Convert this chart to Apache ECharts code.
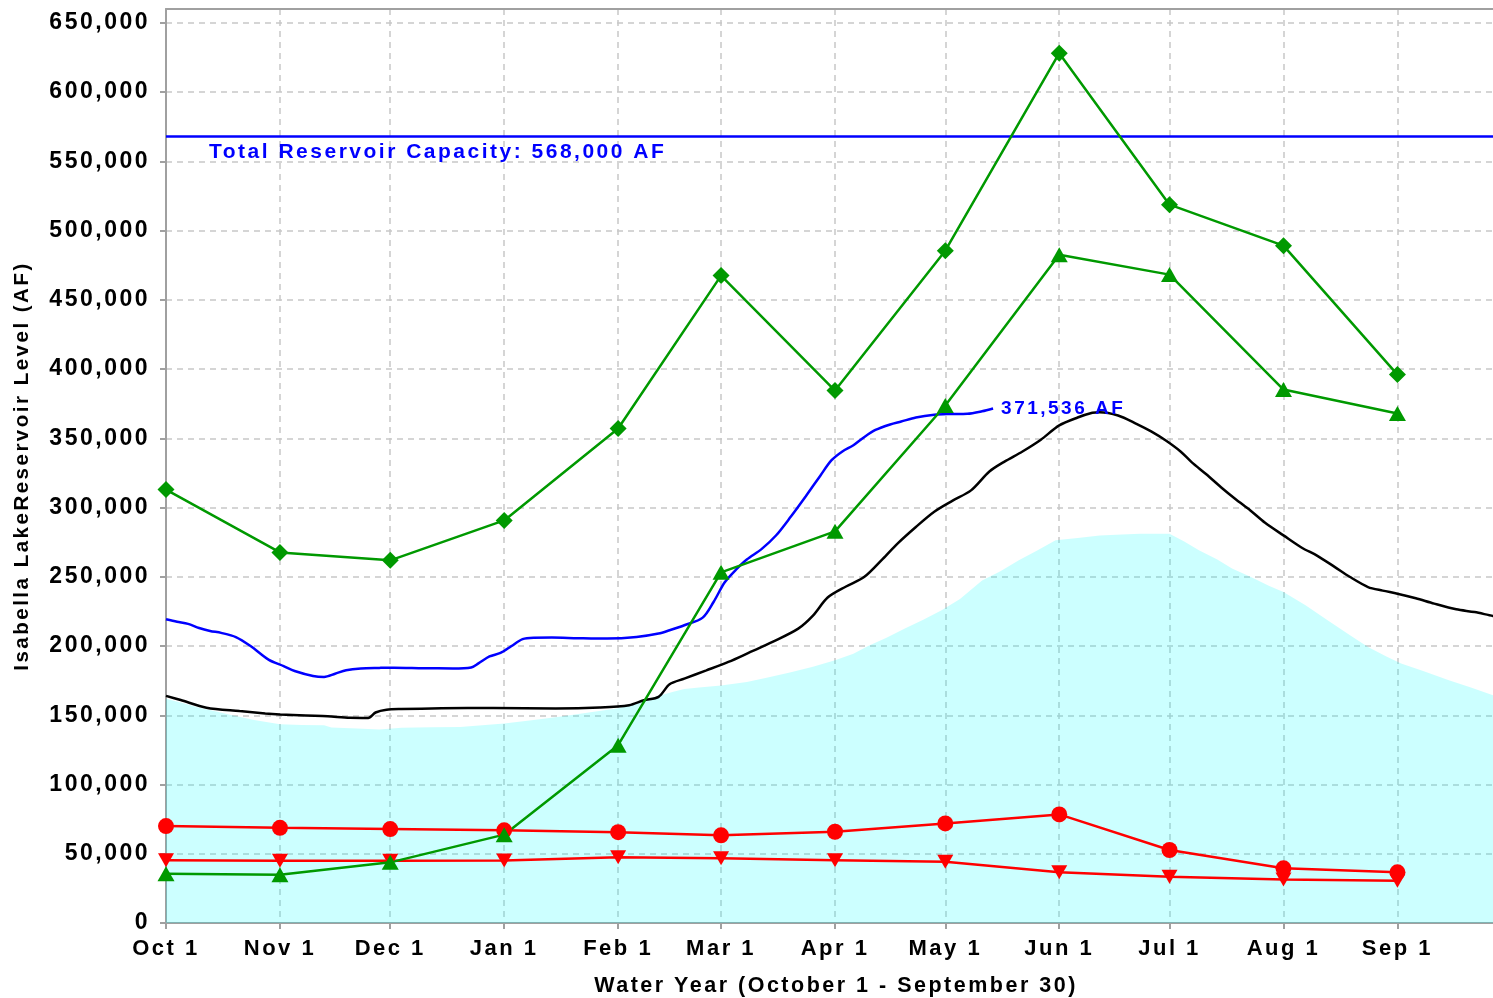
<!DOCTYPE html>
<html>
<head>
<meta charset="utf-8">
<title>Isabella Lake Reservoir Level</title>
<script src="https://cdn.jsdelivr.net/npm/echarts@6/dist/echarts.min.js"></script>
<style>
  html, body { margin: 0; padding: 0; background: #fff; }
  #chart { width: 1493px; height: 998px; }
</style>
</head>
<body>
<div id="chart"></div>
<script>
// x is the day of the water year, 0 = Oct 1; the plot is cut off a few days before Sep 30
const xMax = 361;
const monthDays = [0, 31, 61, 92, 123, 151, 182, 212, 243, 273, 304, 335];
const monthLabels = ['Oct 1', 'Nov 1', 'Dec 1', 'Jan 1', 'Feb 1', 'Mar 1', 'Apr 1', 'May 1', 'Jun 1', 'Jul 1', 'Aug 1', 'Sep 1'];
const yTicks = [0, 50000, 100000, 150000, 200000, 250000, 300000, 350000, 400000, 450000, 500000, 550000, 600000, 650000];
const capacity = 568000;

// monthly points
const greenDiamond = [313000, 267600, 261900, 290700, 357100, 467500, 384500, 485500, 628100, 518700, 489100, 396000];
const greenTriangle = [35600, 34800, 43800, 63800, 128400, 253200, 282800, 373700, 482600, 468200, 385200, 367900];
const redCircle = [70000, 68700, 67800, 66900, 65600, 63300, 65900, 71900, 78400, 52700, 39500, 36600];
const redTriangle = [45400, 44900, 44900, 45200, 47400, 46700, 45400, 44200, 36600, 33400, 31500, 30500];

// average storage (black)
const avgDays = [0, 4, 11, 20, 27, 31, 38, 44, 50, 55, 57, 60, 64, 75, 89, 106, 118, 126, 130, 134, 137, 141, 147, 153, 159, 165, 172, 176, 180, 185, 190, 195, 199, 204, 209, 214, 219, 224, 228, 233, 238, 243, 248, 252, 254, 259, 264, 268, 272, 276, 279, 283, 287, 291, 295, 299, 304, 309, 313, 318, 322, 327, 331, 335, 340, 345, 351, 356, 361, 365];
const avgValues = [164000, 161000, 155500, 153000, 151300, 150600, 149800, 149300, 148200, 148100, 152000, 154000, 154500, 155000, 155300, 154900, 155600, 157300, 160900, 163300, 172400, 176500, 182400, 188500, 195700, 203000, 212600, 222000, 235000, 243000, 250000, 263000, 274000, 286000, 297000, 305000, 312400, 326000, 333000, 340500, 349000, 359300, 365000, 368400, 368900, 366500, 360500, 355000, 348400, 340500, 332800, 324000, 314700, 306000, 297900, 289000, 279900, 271000, 265500, 257000, 250000, 242600, 240000, 237800, 234500, 230600, 226500, 224500, 221700, 220000];

// current year storage (blue)
const currentDays = [0, 3, 6, 9, 12, 15, 19, 23, 28, 32, 35, 40, 43, 46, 49, 53, 58, 62, 70, 78, 83, 85, 88, 91, 94, 97, 100, 105, 112, 120, 128, 134, 137, 141, 146, 149, 152, 155, 158, 162, 166, 170, 174, 178, 181, 184, 187, 190, 193, 197, 200, 204, 209, 213, 218, 222, 225];
const currentValues = [219300, 217500, 216000, 213000, 210900, 209500, 206500, 200000, 190000, 185500, 182000, 178400, 177700, 180000, 182500, 183800, 184200, 184400, 184000, 183800, 184500, 187500, 192500, 195000, 200000, 205000, 206000, 206100, 205700, 205400, 206500, 209000, 211400, 215000, 220500, 232000, 246000, 255000, 262500, 270000, 280000, 293500, 308000, 323000, 334000, 340500, 345000, 351000, 356000, 360000, 362100, 365000, 367000, 367500, 367700, 369500, 371536];

// shaded band (cyan)
const shadedDays = [0, 5, 9, 14, 18, 24, 31, 37, 43, 45, 52, 58, 64, 72, 80, 92, 100, 107, 115, 123, 126, 132, 138, 141, 145, 151, 158, 164, 170, 176, 182, 187, 191, 196, 201, 206, 211, 216, 222, 227, 232, 237, 242, 248, 254, 260, 265, 270, 273, 277, 281, 286, 290, 295, 300, 304, 310, 316, 322, 327, 332, 336, 342, 349, 355, 361, 365];
const shadedValues = [162000, 158500, 155500, 152500, 150000, 146500, 143600, 143000, 142800, 141200, 140500, 139800, 140900, 141300, 141600, 144000, 146500, 149000, 152000, 155100, 157300, 162500, 167000, 169000, 170000, 171500, 174000, 177500, 181000, 185000, 189700, 194500, 200000, 206000, 212600, 219000, 225800, 234000, 247400, 254000, 261900, 269000, 276300, 278000, 279900, 280500, 281100, 281100, 281100, 275500, 269100, 262500, 255900, 250000, 243500, 239000, 229500, 218600, 208000, 199300, 192500, 187300, 182000, 175300, 170000, 164500, 162000];

const font = '"Liberation Sans", Arial, sans-serif';
const pairs = (xs, ys) => xs.map((x, i) => [x, ys[i]]);
const fmt = v => v.toLocaleString('en-US');
const frame = { color: '#a0a0a0', width: 2 };

const monthlySeries = (values, color, symbol, size, rotate) => ({
  type: 'line',
  data: pairs(monthDays, values),
  symbol: symbol,
  symbolSize: size,
  symbolRotate: rotate || 0,
  showSymbol: true,
  lineStyle: { color: color, width: 2.5 },
  itemStyle: { color: color },
  z: 5
});

const option = {
  animation: false,
  backgroundColor: '#ffffff',
  grid: { left: 166, top: 9, right: 0, bottom: 75, outerBoundsMode: 'none' },
  xAxis: [
    {
      type: 'value',
      min: 0,
      max: xMax,
      name: 'Water Year (October 1 - September 30)',
      nameLocation: 'middle',
      nameGap: 52,
      nameTextStyle: { color: '#000', fontSize: 21.5, fontWeight: 'bold', fontFamily: font, padding: [0, 0, 0, 13] },
      axisLine: { show: true, lineStyle: frame },
      axisTick: { show: true, customValues: monthDays, length: 6, lineStyle: frame },
      axisLabel: {
        customValues: monthDays,
        formatter: v => monthLabels[monthDays.indexOf(v)],
        margin: 15,
        color: '#000',
        fontSize: 22,
        fontWeight: 'bold',
        fontFamily: font
      },
      splitLine: { show: true, lineStyle: { color: '#c8c8c8', width: 1.5, type: [6, 5] } }
    },
    {
      // top frame line only
      type: 'value',
      position: 'top',
      min: 0,
      max: xMax,
      axisLine: { show: true, lineStyle: frame },
      axisTick: { show: false },
      axisLabel: { show: false },
      splitLine: { show: false }
    }
  ],
  yAxis: {
    type: 'value',
    min: 0,
    max: 660000,
    interval: 50000,
    name: 'Isabella LakeReservoir Level (AF)',
    nameLocation: 'middle',
    nameGap: 133,
    nameTextStyle: { color: '#000', fontSize: 20.5, fontWeight: 'bold', fontFamily: font },
    axisLine: { show: true, lineStyle: frame },
    axisTick: { show: true, customValues: yTicks, length: 6, lineStyle: frame },
    axisLabel: {
      customValues: yTicks,
      formatter: fmt,
      margin: 16,
      color: '#000',
      fontSize: 23,
      fontWeight: 'bold',
      fontFamily: font
    },
    splitLine: { show: true, lineStyle: { color: '#c8c8c8', width: 1.5, type: [6, 5] } }
  },
  series: [
    {
      type: 'line',
      data: pairs(shadedDays, shadedValues),
      symbol: 'none',
      lineStyle: { width: 0 },
      areaStyle: { color: 'rgba(0, 255, 255, 0.2)', opacity: 1 },
      z: 1
    },
    {
      type: 'line',
      data: pairs(avgDays, avgValues),
      symbol: 'none',
      smooth: 0.3,
      lineStyle: { color: '#000', width: 2.5 },
      z: 2,
      markLine: {
        silent: true,
        symbol: 'none',
        lineStyle: { color: '#0000ff', width: 2.5, type: 'solid' },
        label: {
          show: true,
          position: 'insideStartBottom',
          distance: [43, 5],
          formatter: 'Total Reservoir Capacity: ' + fmt(capacity) + ' AF',
          color: '#0000ff',
          fontSize: 21,
          fontWeight: 'bold',
          fontFamily: font
        },
        data: [{ yAxis: capacity }]
      }
    },
    {
      type: 'line',
      data: pairs(currentDays, currentValues),
      symbol: 'none',
      smooth: 0.3,
      lineStyle: { color: '#0000ff', width: 2.5 },
      z: 3,
      endLabel: {
        show: true,
        formatter: p => fmt(p.value[1]) + ' AF',
        distance: 8,
        color: '#0000ff',
        fontSize: 19,
        fontWeight: 'bold',
        fontFamily: font
      }
    },
    monthlySeries(redCircle, '#ff0000', 'circle', 16),
    monthlySeries(redTriangle, '#ff0000', 'triangle', [16, 14], 180),
    monthlySeries(greenDiamond, '#009900', 'diamond', 17),
    monthlySeries(greenTriangle, '#009900', 'triangle', [17, 15])
  ]
};

const dom = document.getElementById('chart');
const chart = echarts.init(dom);
chart.setOption(option);

// the original's glyphs are spaced out a little: set it on the canvas and draw again
const canvas = dom.querySelector('canvas');
if (canvas) {
  canvas.getContext('2d').letterSpacing = '2.5px';
  chart.clear();
  chart.setOption(option);
}
</script>
</body>
</html>
